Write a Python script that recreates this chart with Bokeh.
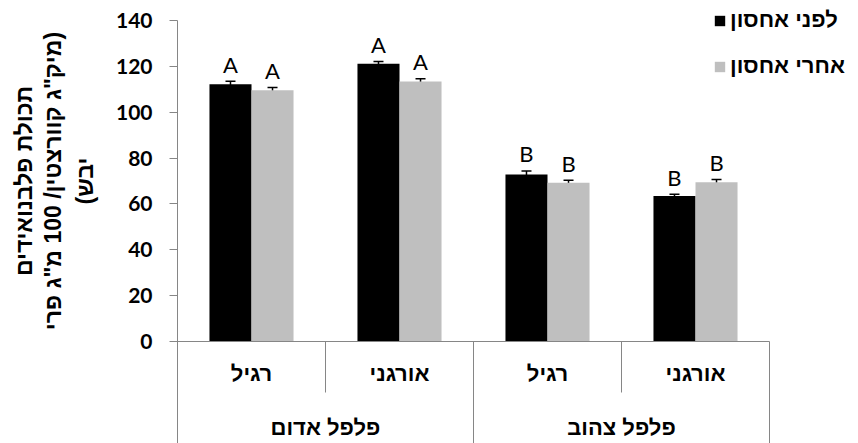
from math import pi
from bokeh.plotting import figure
from bokeh.layouts import row
from bokeh.models import (ColumnDataSource, Range1d, FixedTicker, Whisker, TeeHead,
                          Legend, LegendItem)
from bokeh.core.properties import value
from bokeh.embed import file_html
from bokeh.resources import INLINE

# --- data -------------------------------------------------------------------
peppers = ["פלפל אדום", "פלפל צהוב"]
growing = ["רגיל", "אורגני"]
series_names = ["לפני אחסון", "אחרי אחסון"]
before = [112.2, 121.1, 72.8, 63.5]
before_err = [1.3, 1.0, 1.6, 0.7]
after = [109.6, 113.4, 69.2, 69.5]
after_err = [1.15, 1.15, 1.15, 1.2]
before_letters = ["A", "A", "B", "B"]
after_letters = ["A", "A", "B", "B"]
y_ticks = [0, 20, 40, 60, 80, 100, 120, 140]
y_title = ["תכולת פלבנואידים",
           "\u200f(מיק\"ג קוורצטין/ 100 מ\"ג פרי",
           "יבש)\u200f"]

# --- layout / styling -------------------------------------------------------
BLACK = "#000000"
GREY = "#BFBFBF"
AXIS_GREY = "#868686"
HEB_FONT = "Liberation Sans"
NUM_FONT = "Lato"
W, H = 858, 443
TITLE_W = 110                 # strip holding the rotated value-axis title
PLOT_LEFT = 177               # x of the value axis
CAT_RIGHT = 769               # right edge of the category band
ZERO_Y = 341                  # pixel row of value 0
TOP_Y = 20                    # pixel row of the top tick
BAR_W = 0.284                 # bar width, in category units

px_per_unit = (ZERO_Y - TOP_Y) / y_ticks[-1]
n_cat = len(peppers) * len(growing)
px_per_cat = (CAT_RIGHT - PLOT_LEFT) / n_cat

y_range = Range1d(-(H - ZERO_Y) / px_per_unit, y_ticks[-1] + TOP_Y / px_per_unit)
x_range = Range1d(0, (W - PLOT_LEFT) / px_per_cat)

# category positions on the x scale (one unit per category)
cat_x = [i + 0.5 for i in range(n_cat)]
cat_labels = [g for _ in peppers for g in growing]
grp_x = [len(growing) * (j + 0.5) for j in range(len(peppers))]
long_div_x = [len(growing) * (j + 1) for j in range(len(peppers))]
short_div_x = [len(growing) * j + k for j in range(len(peppers)) for k in range(1, len(growing))]

src = ColumnDataSource(dict(
    xb=[c - BAR_W / 2 for c in cat_x], xa=[c + BAR_W / 2 for c in cat_x],
    before=before, before_lo=[v - e for v, e in zip(before, before_err)],
    before_hi=[v + e for v, e in zip(before, before_err)],
    after=after, after_lo=[v - e for v, e in zip(after, after_err)],
    after_hi=[v + e for v, e in zip(after, after_err)],
    before_letters=before_letters, after_letters=after_letters,
))

p = figure(x_range=x_range, y_range=y_range, width=W - TITLE_W, height=H,
           min_border_left=PLOT_LEFT - TITLE_W, min_border_right=0,
           min_border_top=0, min_border_bottom=0,
           x_axis_location=None, output_backend="svg", toolbar_location=None)
p.outline_line_color = None
p.grid.visible = False

# value axis: line runs from the top tick down through the category band
ya = p.yaxis[0]
ya.ticker = FixedTicker(ticks=y_ticks)
ya.bounds = (y_range.start, y_ticks[-1])
ya.axis_line_color = AXIS_GREY
ya.major_tick_line_color = AXIS_GREY
ya.major_tick_out = 8
ya.major_tick_in = 0
ya.minor_tick_line_color = None
ya.major_label_standoff = 17
ya.major_label_text_font = NUM_FONT
ya.major_label_text_font_style = "bold"
ya.major_label_text_font_size = "21px"
ya.major_label_text_color = BLACK

# bars
r_before = p.vbar(x="xb", top="before", width=BAR_W, source=src,
                  fill_color=BLACK, line_color=None)
r_after = p.vbar(x="xa", top="after", width=BAR_W, source=src,
                 fill_color=GREY, line_color=None)

# error bars
for col, name in (("xb", "before"), ("xa", "after")):
    p.add_layout(Whisker(base=col, lower=name + "_lo", upper=name + "_hi", source=src,
                         line_color=BLACK, line_width=1.5,
                         upper_head=TeeHead(size=10, line_color=BLACK, line_width=1.5),
                         lower_head=TeeHead(size=10, line_color=BLACK, line_width=1.5)))

# significance letters
for col, name in (("xb", "before"), ("xa", "after")):
    p.text(x=col, y=name + "_hi", text=name + "_letters", source=src,
           text_align="center", text_baseline="alphabetic", y_offset=-17,
           text_font=value(NUM_FONT), text_font_size="22px", text_color=BLACK)

# zero line across the categories
p.segment(x0=0, y0=0, x1=n_cat, y1=0, line_color=AXIS_GREY, line_width=1)

# category band: dividers and labels
p.ray(x=long_div_x, y=0, length=0, angle=-pi / 2, line_color=AXIS_GREY, line_width=1)
p.ray(x=short_div_x, y=0, length=51, length_units="screen", angle=-pi / 2,
      line_color=AXIS_GREY, line_width=1)
p.text(x=cat_x, y=0, text=cat_labels, y_offset=32, text_align="center",
       text_baseline="middle", text_font=value(HEB_FONT), text_font_style="bold",
       text_font_size="22px", text_color=BLACK)
p.text(x=grp_x, y=0, text=peppers, y_offset=86, text_align="center",
       text_baseline="middle", text_font=value(HEB_FONT), text_font_style="bold",
       text_font_size="22px", text_color=BLACK)

# legend
legend = Legend(items=[LegendItem(label=series_names[0], renderers=[r_before]),
                       LegendItem(label=series_names[1], renderers=[r_after])],
                location=(713 - PLOT_LEFT, H - 79), orientation="vertical",
                glyph_width=13, glyph_height=13, label_height=26, spacing=20,
                padding=0, margin=0, label_standoff=4,
                border_line_color=None, background_fill_alpha=0,
                label_text_font=HEB_FONT, label_text_font_style="bold",
                label_text_font_size="22px", label_text_color=BLACK)
p.add_layout(legend)

# rotated value-axis title, centred on the value range
t = figure(x_range=Range1d(0, TITLE_W), y_range=y_range, width=TITLE_W, height=H,
           min_border=0, x_axis_location=None, y_axis_location=None,
           output_backend="svg", toolbar_location=None)
t.outline_line_color = None
t.grid.visible = False
t.text(x=[23, 52, 84], y=(y_ticks[0] + y_ticks[-1]) / 2, text=y_title, angle=pi / 2,
       text_align="center", text_baseline="middle", text_font=value(HEB_FONT),
       text_font_style="bold", text_font_size="23px", text_color=BLACK)

layout = row(t, p)
open("out.html", "w").write(file_html(layout, INLINE))
